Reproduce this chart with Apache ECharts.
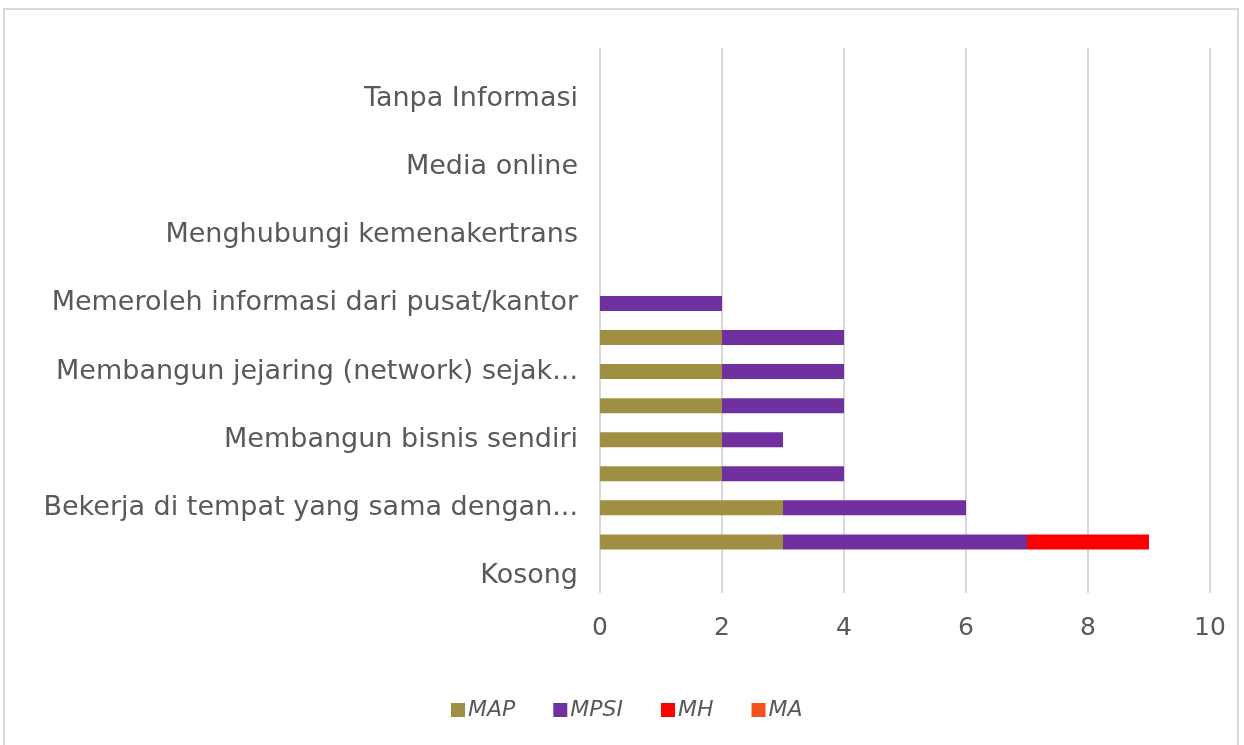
<!DOCTYPE html>
<html>
<head>
<meta charset="utf-8">
<script src="https://cdn.jsdelivr.net/npm/echarts@6/dist/echarts.min.js"></script>
<style>
	html, body { margin: 0; padding: 0; background: #fff; }
	#frame { position: absolute; left: 3px; top: 8px; width: 1236px; height: 740px; border: 2px solid #d9d9d9; border-bottom: none; box-sizing: border-box; }
	#chart { position: absolute; left: 0; top: 0; width: 1244px; height: 745px; }
</style>
</head>
<body>
<div id="frame"></div>
<div id="chart"></div>
<script>
// categories from bottom to top (every other label is hidden, as in the original)
let categories = [
	'Kosong',
	'Lainnya (a)',
	'Bekerja di tempat yang sama dengan...',
	'Lainnya (b)',
	'Membangun bisnis sendiri',
	'Lainnya (c)',
	'Membangun jejaring (network) sejak...',
	'Lainnya (d)',
	'Memeroleh informasi dari pusat/kantor',
	'Lainnya (e)',
	'Menghubungi kemenakertrans',
	'Lainnya (f)',
	'Media online',
	'Lainnya (g)',
	'Tanpa Informasi',
	'Lainnya (h)'
];
let map = [0, 3, 3, 2, 2, 2, 2, 2, 0, 0, 0, 0, 0, 0, 0, 0];
let mpsi = [0, 4, 3, 2, 1, 2, 2, 2, 2, 0, 0, 0, 0, 0, 0, 0];
let mh = [0, 2, 0, 0, 0, 0, 0, 0, 0, 0, 0, 0, 0, 0, 0, 0];
let ma = [0, 0, 0, 0, 0, 0, 0, 0, 0, 0, 0, 0, 0, 0, 0, 0];
let xTicks = [0, 2, 4, 6, 8, 10];

let font = 'DejaVu Sans';
let chart = echarts.init(document.getElementById('chart'));

function bar(name, data, color) {
	return {
		name: name,
		type: 'bar',
		stack: 'total',
		data: data,
		barWidth: 15,
		itemStyle: { color: color },
		emphasis: { disabled: true }
	};
}

option = {
	animation: false,
	grid: { left: 600, top: 48, width: 610, height: 545, containLabel: false },
	legend: {
		top: 694,
		left: 446,
		icon: 'rect',
		itemWidth: 14,
		itemHeight: 14,
		itemGap: 38,
		textStyle: { color: '#595959', fontSize: 22, fontFamily: font, fontStyle: 'italic', padding: [0, 0, 0, -2] },
		data: ['MAP', 'MPSI', 'MH', 'MA']
	},
	xAxis: {
		type: 'value',
		min: xTicks[0],
		max: xTicks[xTicks.length - 1],
		interval: 2,
		axisLine: { show: false },
		axisTick: { show: false },
		splitLine: { lineStyle: { color: '#d9d9d9', width: 2 } },
		axisLabel: { color: '#595959', fontSize: 25, fontFamily: font, margin: 23 }
	},
	yAxis: {
		type: 'category',
		data: categories,
		axisLine: { show: false },
		axisTick: { show: false },
		axisLabel: { interval: 1, color: '#595959', fontSize: 27, fontFamily: font, margin: 22 }
	},
	series: [
		bar('MAP', map, '#9e8f43'),
		bar('MPSI', mpsi, '#7030a0'),
		bar('MH', mh, '#ff0000'),
		bar('MA', ma, '#f4511e')
	]
};
chart.setOption(option, true);
</script>
</body>
</html>
